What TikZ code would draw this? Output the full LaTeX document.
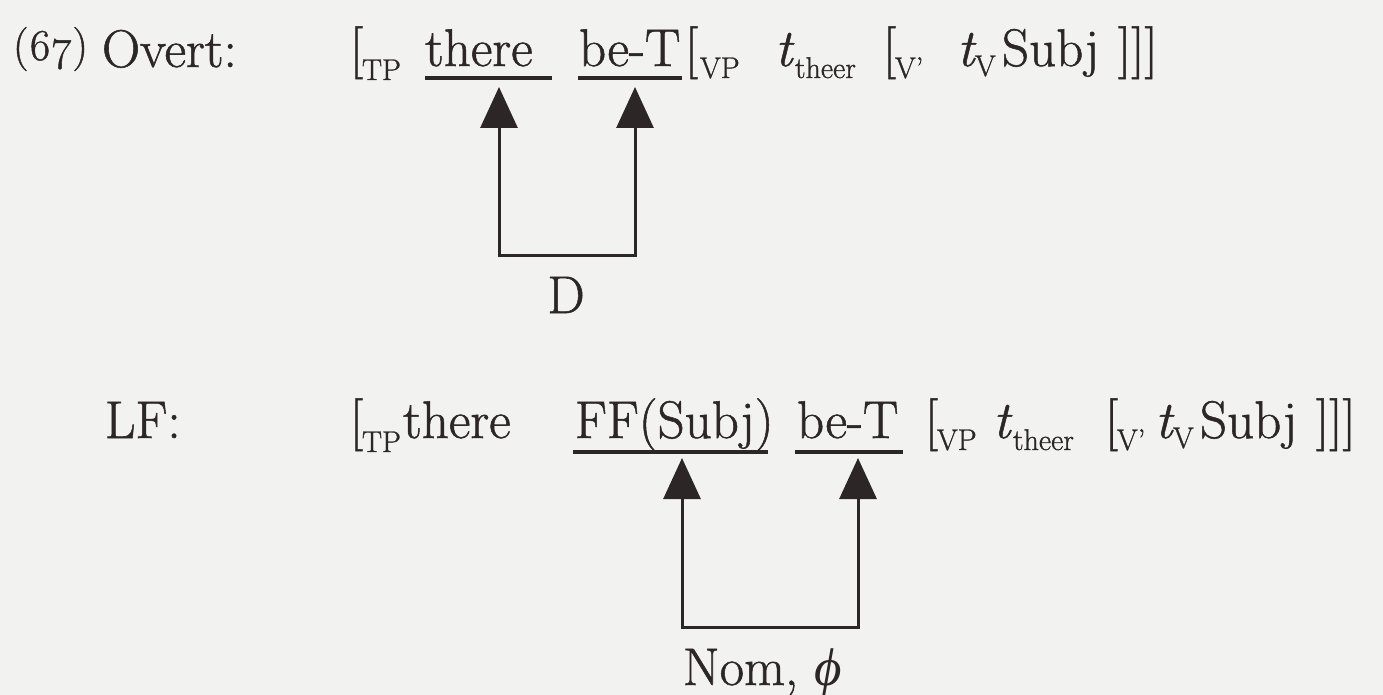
\documentclass[tikz,border=0pt]{standalone}
\usepackage{fontspec}
\setmainfont{Latin Modern Roman}[FakeBold=1.0]
\newfontfamily\grk{Liberation Serif}
\usetikzlibrary{arrows.meta}
\definecolor{ink}{RGB}{45,38,38}
\definecolor{paper}{RGB}{242,242,241}
\newcommand\mainsz{\fontsize{53}{60}\selectfont}
\newcommand\subsz{\fontsize{30}{34}\selectfont}
\newcommand\numsz{\fontsize{44}{50}\selectfont\addfontfeature{Numbers=OldStyle}}
\tikzset{
  wd/.style={anchor=base west, inner sep=0pt, outer sep=0pt, font=\mainsz, text=ink},
  sb/.style={anchor=base west, inner sep=0pt, outer sep=0pt, font=\subsz, text=ink},
  uline/.style={line width=3.5pt, draw=ink},
  conn/.style={line width=3pt, draw=ink, line join=miter,
    {Triangle[width=37pt,length=41pt]}-{Triangle[width=37pt,length=41pt]}}
}
\begin{document}
\begin{tikzpicture}[x=1pt,y=-1pt]
\fill[paper] (0,0) rectangle (1383,695);
\useasboundingbox (0,0) rectangle (1383,695);

% ---- Overt line ----
\node[wd, font=\numsz] (ex) at (13,60) {(67)};
\node[wd] (o-label) at (102,67) {Overt:};
\node[wd] (o-lb1) at (350,66) {[};
\node[sb] (o-tp) at (362,80) {TP};
\node[wd] (o-there) at (425,66) {there};
\node[wd] (o-be) at (579,66) {be-T};
\node[wd] (o-lb2) at (685,66) {[};
\node[sb] (o-vp) at (700,78) {VP};
\node[wd] (o-t1) at (775,66) {\itshape t};
\node[sb] (o-theer) at (795,78) {theer};
\node[wd] (o-lb3) at (883,66) {[};
\node[sb] (o-vbar) at (895,78) {V'};
\node[wd] (o-t2) at (957,66) {\itshape t};
\node[sb] (o-v) at (975,76) {V};
\node[wd] (o-subj) at (1002,66) {Subj};
\node[wd] (o-rb) at (1118,66) {]]]};

\coordinate (o-u1a) at (425,78); \coordinate (o-u1b) at (552,78);
\coordinate (o-u2a) at (578,78); \coordinate (o-u2b) at (682,78);
\draw[uline] (o-u1a) -- (o-u1b);
\draw[uline] (o-u2a) -- (o-u2b);

\coordinate (o-tipL) at (499,87);
\coordinate (o-tipR) at (635,87);
\coordinate (o-bar) at (566,255);
\draw[conn] (o-tipL) -- (o-tipL |- o-bar) -- (o-tipR |- o-bar) -- (o-tipR);
\node[wd, anchor=base] (o-d) at (566,313) {D};

% ---- LF line ----
\node[wd] (l-label) at (105,438) {LF:};
\node[wd] (l-lb1) at (350,438) {[};
\node[sb] (l-tp) at (362,452) {TP};
\node[wd] (l-there) at (403,438) {there};
\node[wd] (l-ff) at (575,438) {FF(Subj)};
\node[wd] (l-be) at (797,438) {be-T};
\node[wd] (l-lb2) at (925,438) {[};
\node[sb] (l-vp) at (937,450) {VP};
\node[wd] (l-t1) at (993,438) {\itshape t};
\node[sb] (l-theer) at (1013,450) {theer};
\node[wd] (l-lb3) at (1105,438) {[};
\node[sb] (l-vbar) at (1117,450) {V'};
\node[wd] (l-t2) at (1155,438) {\itshape t};
\node[sb] (l-v) at (1173,448) {V};
\node[wd] (l-subj) at (1200,438) {Subj};
\node[wd] (l-rb) at (1316,438) {]]]};

\coordinate (l-u1a) at (573,452); \coordinate (l-u1b) at (768,452);
\coordinate (l-u2a) at (795,452); \coordinate (l-u2b) at (903,452);
\draw[uline] (l-u1a) -- (l-u1b);
\draw[uline] (l-u2a) -- (l-u2b);

\coordinate (l-tipL) at (682,458);
\coordinate (l-tipR) at (858,458);
\coordinate (l-bar) at (770,627);
\draw[conn] (l-tipL) -- (l-tipL |- l-bar) -- (l-tipR |- l-bar) -- (l-tipR);
\node[wd] (l-nom) at (683,685) {Nom, {\grk\itshape ϕ}};
\end{tikzpicture}
\end{document}
